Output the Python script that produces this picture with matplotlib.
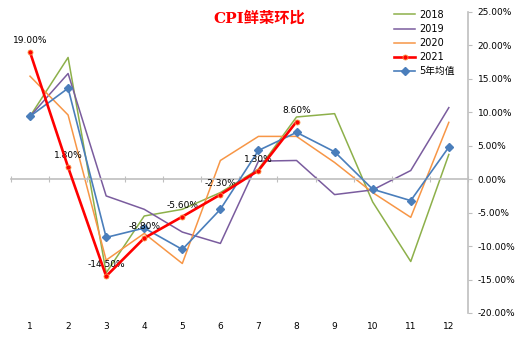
import numpy as np
import matplotlib.pyplot as plt
from matplotlib.ticker import FuncFormatter
import matplotlib.transforms as mtransforms

plt.rcParams['font.family'] = ['DejaVu Sans', 'Noto Sans CJK SC']

# 鲜菜CPI环比 (%)
months = list(range(1, 13))
y2018 = [9.4, 18.2, -14.0, -5.5, -4.5, -2.0, 1.5, 9.3, 9.8, -3.4, -12.3, 3.7]
y2019 = [9.4, 15.8, -2.5, -4.5, -7.9, -9.6, 2.7, 2.8, -2.3, -1.6, 1.3, 10.7]
y2020 = [15.4, 9.6, -12.1, -8.1, -12.6, 2.8, 6.4, 6.4, 2.5, -2.0, -5.7, 8.5]
y2021 = [19.0, 1.8, -14.5, -8.8, -5.6, -2.3, 1.3, 8.6]
avg5 = [9.4, 13.6, -8.7, -7.3, -10.5, -4.5, 4.3, 7.0, 4.1, -1.5, -3.2, 4.8]
yticks = [25, 20, 15, 10, 5, 0, -5, -10, -15, -20]

fig = plt.figure(figsize=(5.18, 3.39), dpi=100)
ax = fig.add_axes([0.0212, 0.0767, 0.882, 0.888])

ax.plot(months, y2018, color='#8DB04A', lw=1.1, label='2018', zorder=2)
ax.plot(months, y2019, color='#7A5C9E', lw=1.1, label='2019', zorder=2)
ax.plot(months, y2020, color='#F79646', lw=1.1, label='2020', zorder=2)
ax.plot(months[:len(y2021)], y2021, color='#FF0000', lw=1.9, marker='o',
        ms=3.6, mfc='#FF0000', mec='#F79646', mew=0.6, label='2021', zorder=4)
ax.plot(months, avg5, color='#4A7EBB', lw=1.2, marker='D', ms=4,
        label='5年均值', zorder=3)

for m, v in zip(months, y2021):
    ax.annotate(f'{v:.2f}%', (m, v), xytext=(0, 5), textcoords='offset points',
                ha='center', va='bottom', fontsize=6.5)

ax.set_xlim(0.5, 12.5)
ax.set_ylim(-20, 25)

# y axis on the right
ax.yaxis.tick_right()
ax.set_yticks(yticks)
ax.yaxis.set_major_formatter(FuncFormatter(lambda v, p: f'{v:.2f}%'))
ax.tick_params(axis='y', direction='out', length=3, color='#BFBFBF',
               labelsize=6.5, pad=4)

for s in ['top', 'left']:
    ax.spines[s].set_visible(False)
ax.spines['right'].set_color('#BFBFBF')
ax.spines['right'].set_linewidth(1.2)
ax.spines['bottom'].set_position(('data', 0))
ax.spines['bottom'].set_color('#BFBFBF')
ax.spines['bottom'].set_linewidth(1.2)

# x axis: ticks between categories, labels at the bottom
ax.set_xticks(np.arange(0.5, 13, 1))
ax.set_xticklabels([])
ax.tick_params(axis='x', direction='inout', length=4, color='#BFBFBF')
trans = mtransforms.blended_transform_factory(ax.transData, ax.transAxes)
for m in months:
    ax.text(m, -0.045, str(m), transform=trans, ha='center', va='center',
            fontsize=6.5)

fig.text(0.5, 0.947, 'CPI鲜菜环比', ha='center', va='center',
         fontsize=11, fontweight='bold', color='#FF0000',
         family=['DejaVu Serif', 'Noto Sans CJK SC'])

ax.legend(loc='upper left', bbox_to_anchor=(0.83, 1.02), frameon=False,
          fontsize=7, handlelength=2.2, labelspacing=0.42,
          handletextpad=0.4, borderaxespad=0)

fig.savefig('out.png', dpi=100)
